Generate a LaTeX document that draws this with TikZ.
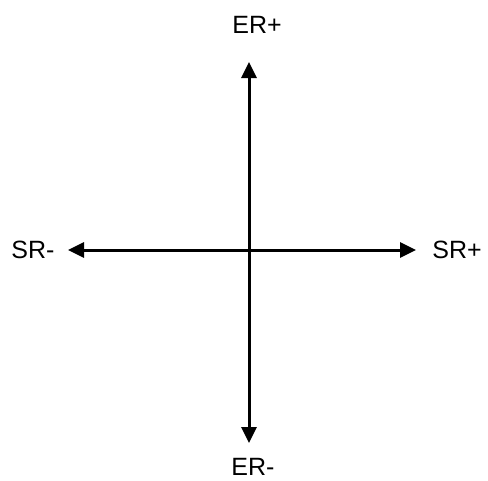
\documentclass[tikz,border=0pt]{standalone}
\usepackage{fontspec}
\setmainfont{Liberation Sans}
\usetikzlibrary{arrows.meta}
\begin{document}
\begin{tikzpicture}[x=1pt,y=-1pt,
  axis/.style={line width=3pt,{Triangle[length=16pt,width=15pt]}-{Triangle[length=16pt,width=15pt]}},
  lbl/.style={inner sep=0pt,font=\fontsize{25}{30}\selectfont}]
\useasboundingbox (0,0) rectangle (488,480);
\coordinate (top) at (249,62);
\coordinate (bot) at (249,443);
\coordinate (lft) at (68,250);
\coordinate (rgt) at (416,250);
\draw[axis] (bot) -- (top);
\draw[axis] (lft) -- (rgt);
\node[lbl] (erp) at (257,25) {ER+};
\node[lbl] (erm) at (253,467) {ER-};
\node[lbl] (srm) at (33,250) {SR-};
\node[lbl] (srp) at (457,250) {SR+};
\end{tikzpicture}
\end{document}
